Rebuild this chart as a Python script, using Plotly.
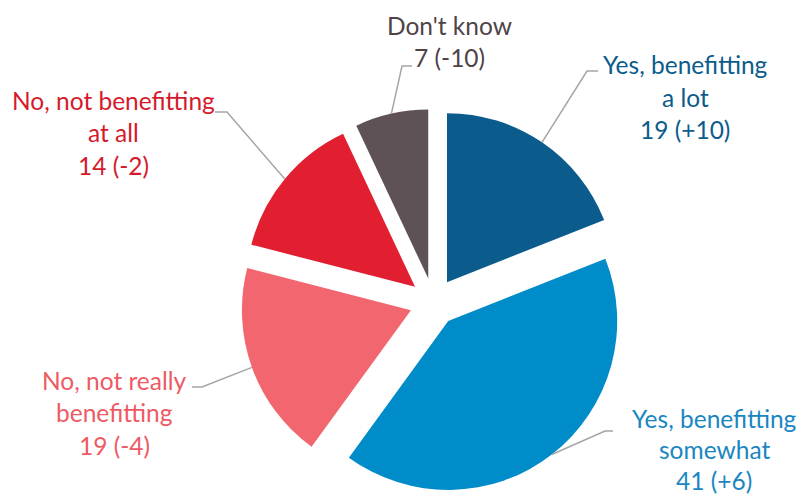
import math
import plotly.graph_objects as go

# ---- data ----
categories = ["Yes, benefitting a lot", "Yes, benefitting somewhat",
              "No, not really benefitting", "No, not benefitting at all", "Don't know"]
values = [19, 41, 19, 14, 7]
changes = ["+10", "+6", "-4", "-2", "-10"]
label_lines = [["Yes, benefitting", "a lot"], ["Yes, benefitting", "somewhat"],
               ["No, not really", "benefitting"], ["No, not benefitting", "at all"],
               ["Don't know"]]
slice_colors = ["#0B5C8C", "#008BC9", "#F2666F", "#E21E31", "#5E5257"]
text_colors = ["#0B5C8C", "#1A86C1", "#EE5A64", "#D41B2C", "#4E4347"]

# ---- layout / style ----
W, H = 801, 497
CX, CY = 433.5, 302.0      # pie centre (px)
R = 169.0                  # pie radius (px)
PULL_PX = 24.0
pull = PULL_PX / R
FONT = "Lato"
FS = 24.5
LINE_H = 32.5
# text block: centre x, centre y of first line ; leader elbow (x, y) ; leader end x
text_pos = [(685, 65), (714, 418), (115, 380), (114, 100), (449, 25)]
elbows = [((587, 71), 598), ((605, 431), 613), ((202, 387), 192), ((227, 112), 215), ((402, 66), 412)]


def px(x):
    return x / W


def py(y):
    return 1 - y / H


half = R * (1 + pull)
fig = go.Figure(go.Pie(
    labels=categories, values=values, sort=False, direction="clockwise", rotation=0,
    marker=dict(colors=slice_colors, line=dict(width=0)),
    pull=[pull] * len(values), textinfo="none", hoverinfo="label+value",
    domain=dict(x=[px(CX - half), px(CX + half)], y=[py(CY + half), py(CY - half)]),
    showlegend=False,
))

annotations = []
shapes = []
total = sum(values)
cum = 0
for i, v in enumerate(values):
    mid = (cum + v / 2) / total * 2 * math.pi
    cum += v
    sx = CX + (R + PULL_PX) * math.sin(mid)
    sy = CY - (R + PULL_PX) * math.cos(mid)
    (ex, ey), endx = elbows[i]
    shapes.append(dict(type="path", xref="paper", yref="paper",
                       path=f"M {px(sx)},{py(sy)} L {px(ex)},{py(ey)} L {px(endx)},{py(ey)}",
                       line=dict(color="#A5A5A5", width=1.5)))
    lines = label_lines[i] + [f"{v} ({changes[i]})"]
    tx, ty = text_pos[i]
    lh = 31.0 if i == 1 else LINE_H
    for k, t in enumerate(lines):
        annotations.append(dict(text=t, x=px(tx), y=py(ty + k * lh), xref="paper", yref="paper",
                                xanchor="center", yanchor="middle", showarrow=False,
                                borderpad=0,
                                font=dict(family=FONT, size=FS, color=text_colors[i])))

fig.update_layout(width=W, height=H, margin=dict(l=0, r=0, t=0, b=0),
                  paper_bgcolor="white", plot_bgcolor="white",
                  annotations=annotations, shapes=shapes)
fig.write_html("out.html")
